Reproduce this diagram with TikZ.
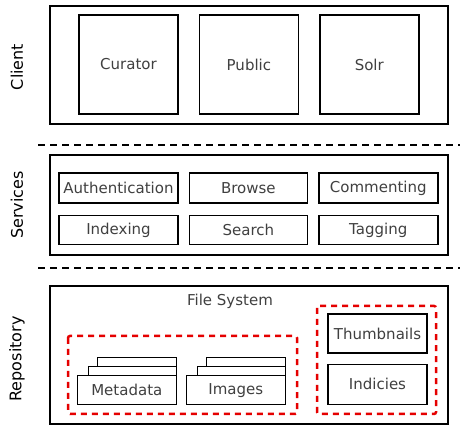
\documentclass[tikz,border=0pt]{standalone}
\usepackage{fontspec}
\setmainfont{DejaVu Sans}
\usetikzlibrary{positioning}
\tikzstyle{layer}=[
draw=black,
line width=2pt,
inner sep=0pt
]
\tikzstyle{block}=[
draw=black,
fill=white,
line width=1.4pt,
inner sep=0pt,
text=black!75,
font=\fontsize{15}{17}\selectfont
]
\tikzstyle{tier} = [rotate=90, font=\fontsize{16}{18}\selectfont]
\tikzstyle{divider} = [draw, line width=2.5pt, dash pattern=on 7pt off 5pt]
\tikzstyle{store} = [draw=red!90!black, line width=2.5pt, dash pattern=on 6pt off 5pt, rounded corners=2pt]

\begin{document}
\begin{tikzpicture}[x=1pt,y=-1pt]
			\useasboundingbox (0,0) rectangle (464,430);
			
			% client
			\node[layer,minimum width=398pt,minimum height=118pt] (client) at (249,65) {};
			\node[block,minimum width=99pt,minimum height=99pt] (curator) at (128.5,64.5) {Curator};
			\node[block,minimum width=99pt,minimum height=99pt] (public) [right=20pt of curator] {Public};
			\node[block,minimum width=99pt,minimum height=99pt] (solr) [right=20pt of public] {Solr};
			\node[tier] (clientlabel) at (17,67) {Client};
			
			\coordinate (d1l) at (38,145);
			\coordinate (d1r) at (460,145);
			\path[divider] (d1l) -- (d1r);
			
			% services
			\node[layer,minimum width=398pt,minimum height=100pt] (services) at (249,205) {};
			\node[block,minimum width=119pt,minimum height=30pt] (auth) at (118.5,188) {Authentication};
			\node[block,minimum width=118pt,minimum height=30pt] (browse) [right=10pt of auth] {Browse};
			\node[block,minimum width=119pt,minimum height=30pt] (comment) [right=10pt of browse] {Commenting};
			\node[block,minimum width=119pt,minimum height=29pt] (index) [below=11pt of auth] {Indexing};
			\node[block,minimum width=118pt,minimum height=29pt] (search) [right=10pt of index] {Search};
			\node[block,minimum width=119pt,minimum height=29pt] (tag) [right=10pt of search] {Tagging};
			\node[tier] (serviceslabel) at (17,205) {Services};
			
			\coordinate (d2l) at (38,268);
			\coordinate (d2r) at (460,268);
			\path[divider] (d2l) -- (d2r);
			
			% repository
			\node[layer,minimum width=398pt,minimum height=138pt] (repo) at (249,355) {};
			\node[text=black!75,font=\fontsize{15}{17}\selectfont] (fs) at (230,301) {File System};
			\node[tier] (repolabel) at (17,359) {Repository};
			
			\draw[store] (68,336) rectangle (297,414);
			\draw[store] (317,306) rectangle (436,414);
			
			\node[block,minimum width=79pt,minimum height=38pt,anchor=north east] (meta3) at (177,357) {};
			\node[block,minimum width=88pt,minimum height=34pt,anchor=north east] (meta2) at (177,366) {};
			\node[block,minimum width=99pt,minimum height=29pt,anchor=north east] (meta) at (177,375) {Metadata};
			\node[block,minimum width=79pt,minimum height=38pt,anchor=north east] (img3) at (286,357) {};
			\node[block,minimum width=88pt,minimum height=34pt,anchor=north east] (img2) at (286,366) {};
			\node[block,minimum width=99pt,minimum height=29pt,anchor=north east] (img) at (286,375) {Images};
			
			\node[block,minimum width=99pt,minimum height=39pt] (thumb) at (377.5,333.5) {Thumbnails};
			\node[block,minimum width=99pt,minimum height=40pt] (indic) [below=10pt of thumb] {Indicies};
			
			\end{tikzpicture}
\end{document}
